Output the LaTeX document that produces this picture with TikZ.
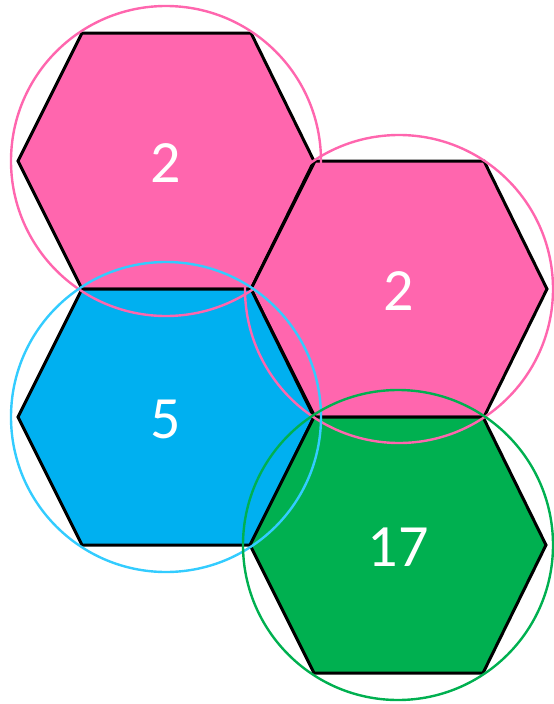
\documentclass[tikz,border=0pt]{standalone}
\usepackage{fontspec}
\setmainfont{Carlito}
\usetikzlibrary{calc}
\definecolor{hpink}{RGB}{255,102,174}
\definecolor{cpink}{RGB}{255,102,174}
\definecolor{hblue}{RGB}{0,176,240}
\definecolor{cblue}{RGB}{51,204,255}
\definecolor{hgreen}{RGB}{0,176,80}
\begin{document}
\begin{tikzpicture}[x=1pt,y=-1pt,
  hexa/.style={draw=black,line width=3pt,line join=miter},
  ring/.style={line width=2.4pt},
  lbl/.style={text=white,font=\fontsize{60}{60}\selectfont,inner sep=0pt}]
\useasboundingbox (0,0) rectangle (554,704);
\coordinate (c1) at (166,161);
\coordinate (c2) at (399,289);
\coordinate (c3) at (166,417);
\coordinate (c4) at (398,545);
\foreach \c/\col in {c1/hpink,c2/hpink,c3/hblue,c4/hgreen}{
  \path[hexa,fill=\col,shift={(\c)}] (-148,0) -- (-84,-128) -- (85,-128) -- (148,0) -- (85,128) -- (-84,128) -- cycle;
}
\draw[ring,draw=cpink] (c1) circle[radius=155];
\draw[ring,draw=cpink] (c2) circle[radius=154];
\draw[ring,draw=cblue] (c3) circle[radius=155];
\draw[ring,draw=hgreen] (c4) circle[radius=155];
\node[lbl] (t1) at ($(c1)+(0,2)$) {2};
\node[lbl] (t2) at ($(c2)+(0,2)$) {2};
\node[lbl] (t3) at ($(c3)+(0,2)$) {5};
\node[lbl] (t4) at ($(c4)+(0,2)$) {17};
\end{tikzpicture}
\end{document}
